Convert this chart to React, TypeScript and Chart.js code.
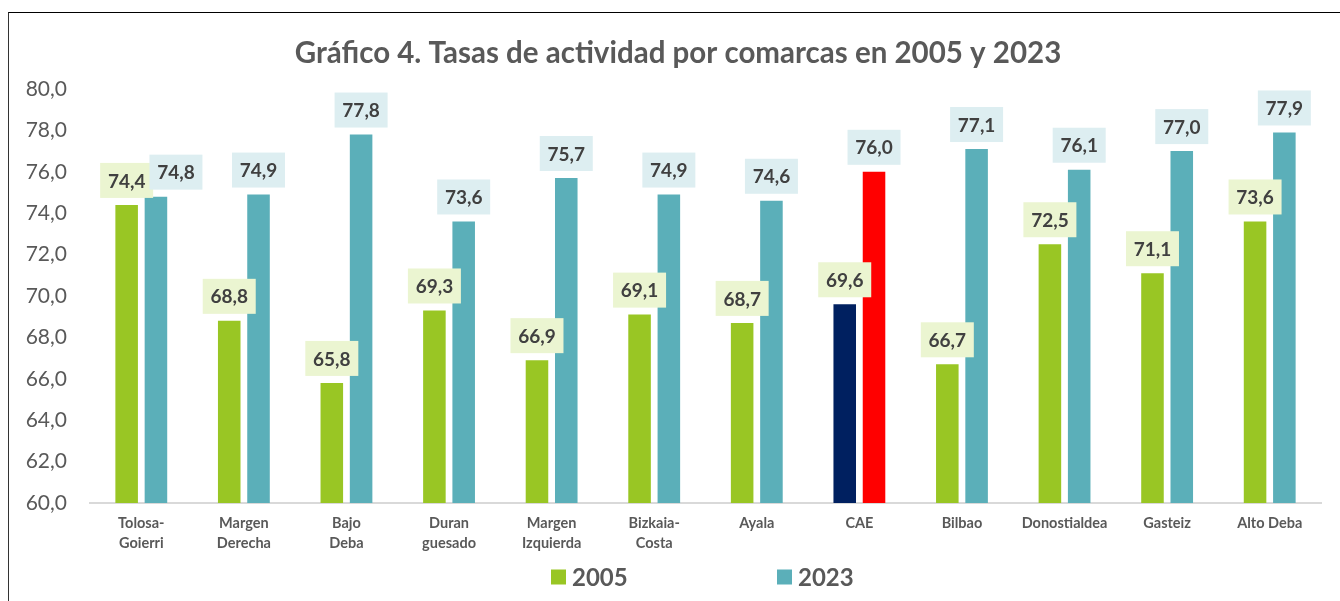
import React, { useEffect, useRef } from "react";
import { Chart, registerables } from "chart.js";

Chart.register(...registerables);

const categories: (string | string[])[] = [
  ["Tolosa-", "Goierri"],
  ["Margen", "Derecha"],
  ["Bajo", "Deba"],
  ["Duran", "guesado"],
  ["Margen", "Izquierda"],
  ["Bizkaia-", "Costa"],
  "Ayala",
  "CAE",
  "Bilbao",
  "Donostialdea",
  "Gasteiz",
  "Alto Deba",
];
const values2005 = [74.4, 68.8, 65.8, 69.3, 66.9, 69.1, 68.7, 69.6, 66.7, 72.5, 71.1, 73.6];
const values2023 = [74.8, 74.9, 77.8, 73.6, 75.7, 74.9, 74.6, 76.0, 77.1, 76.1, 77.0, 77.9];
const seriesNames = ["2005", "2023"];
const titleText = "Gráfico 4. Tasas de actividad por comarcas en 2005 y 2023";

const GREEN = "#99C624";
const TEAL = "#5BAFB9";
const NAVY = "#002060";
const RED = "#FF0000";
const GREEN_BG = "#EBF5D1";
const TEAL_BG = "#DDEEF1";
const GREY = "#595959";
const FONT = "Lato, 'Open Sans', sans-serif";
const HIGHLIGHT = "CAE";

const fmt = (v: number) => v.toFixed(1).replace(".", ",");

const titlePlugin = {
  id: "customTitle",
  afterDraw(chart: any) {
    const ctx = chart.ctx;
    ctx.save();
    ctx.font = `bold 29.5px ${FONT}`;
    ctx.textAlign = "center";
    ctx.textBaseline = "middle";
    ctx.fillStyle = GREY;
    ctx.fillText(titleText, 669, 40);
    ctx.restore();
  },
};

const labelPlugin = {
  id: "boxLabels",
  afterDatasetsDraw(chart: any) {
    const ctx = chart.ctx;
    ctx.save();
    ctx.font = `bold 19px ${FONT}`;
    ctx.textAlign = "center";
    ctx.textBaseline = "middle";
    chart.data.datasets.forEach((ds: any, di: number) => {
      const meta = chart.getDatasetMeta(di);
      meta.data.forEach((el: any, i: number) => {
        const v = ds.data[i];
        // avoid overlap of the first pair of labels
        const shift = di === 1 && i === 0 ? 20 : 0;
        const cx = el.x + shift;
        const w = 53;
        const h = 35;
        const bottom = el.y - 7;
        ctx.fillStyle = di === 0 ? GREEN_BG : TEAL_BG;
        ctx.fillRect(cx - w / 2, bottom - h, w, h);
        ctx.fillStyle = "#404040";
        ctx.fillText(fmt(v), cx, bottom - h / 2 + 1);
      });
    });
    ctx.restore();
  },
};

const legendPlugin = {
  id: "customLegend",
  afterDraw(chart: any) {
    const ctx = chart.ctx;
    ctx.save();
    ctx.font = `bold 24px ${FONT}`;
    ctx.textBaseline = "middle";
    ctx.textAlign = "left";
    const items = [
      { x: 542, color: GREEN, text: seriesNames[0] },
      { x: 768, color: TEAL, text: seriesNames[1] },
    ];
    const y = 564;
    items.forEach((it) => {
      ctx.fillStyle = it.color;
      ctx.fillRect(it.x, y - 7.5, 15, 15);
      ctx.fillStyle = GREY;
      ctx.fillText(it.text, it.x + 21, y + 1);
    });
    ctx.restore();
  },
};

export default function App() {
  const ref = useRef<HTMLCanvasElement | null>(null);
  useEffect(() => {
    if (!ref.current) return;
    const hiIdx = categories.indexOf(HIGHLIGHT);
    const chart = new Chart(ref.current, {
      type: "bar",
      data: {
        labels: categories,
        datasets: [
          {
            label: seriesNames[0],
            data: values2005,
            backgroundColor: values2005.map((_, i) => (i === hiIdx ? NAVY : GREEN)),
            categoryPercentage: 0.571,
            barPercentage: 0.77,
          },
          {
            label: seriesNames[1],
            data: values2023,
            backgroundColor: values2023.map((_, i) => (i === hiIdx ? RED : TEAL)),
            categoryPercentage: 0.571,
            barPercentage: 0.77,
          },
        ],
      },
      options: {
        responsive: false,
        animation: false,
        layout: { padding: { left: 0, right: 19, top: 76, bottom: 38 } },
        plugins: {
          legend: { display: false },
          tooltip: { enabled: false },
          title: { display: false },
        },
        scales: {
          x: {
            grid: { display: false, drawTicks: false },
            border: { display: true, color: "#D9D9D9", width: 2 },
            ticks: {
              color: GREY,
              font: { family: FONT, size: 14.5, weight: "bold", lineHeight: 1.38 },
              padding: 10,
              maxRotation: 0,
              autoSkip: false,
            },
          },
          y: {
            min: 60,
            max: 80,
            grid: { display: false, drawTicks: false },
            border: { display: false },
            afterFit: (scale: any) => {
              scale.width = 81;
            },
            ticks: {
              stepSize: 2,
              color: GREY,
              font: { family: FONT, size: 21 },
              padding: 23,
              callback: (v: any) => fmt(Number(v)),
            },
          },
        },
      },
      plugins: [labelPlugin, legendPlugin, titlePlugin],
    });
    return () => chart.destroy();
  }, []);
  return (
    <div
      style={{
        position: "fixed",
        left: 8,
        top: 12,
        width: 1332,
        height: 589,
        borderTop: "1.5px solid #000",
        borderLeft: "1px solid #333",
        boxSizing: "border-box",
      }}
    >
      <canvas ref={ref} width={1331} height={588} style={{ display: "block" }} />
    </div>
  );
}
